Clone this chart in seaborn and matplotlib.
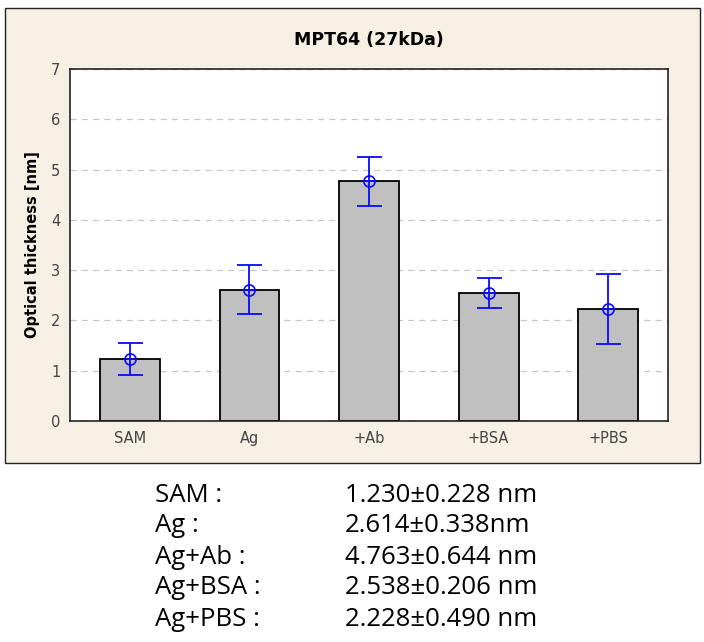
import matplotlib
matplotlib.use("Agg")
import matplotlib.pyplot as plt
import numpy as np
import pandas as pd
import seaborn as sns
from matplotlib.patches import Rectangle

# data
steps = ["SAM", "Ag", "+Ab", "+BSA", "+PBS"]
thickness = [1.230, 2.614, 4.763, 2.538, 2.228]
err = [0.32, 0.48, 0.49, 0.30, 0.69]
row_names = ["SAM :", "Ag :", "Ag+Ab :", "Ag+BSA :", "Ag+PBS :"]
row_values = ["1.230\u00b10.228 nm", "2.614\u00b10.338nm", "4.763\u00b10.644 nm",
              "2.538\u00b10.206 nm", "2.228\u00b10.490 nm"]

df = pd.DataFrame({"step": steps, "thickness": thickness})

sns.set_style("white")
plt.rcParams["font.family"] = ["DejaVu Sans"]

W, H = 704, 642
fig = plt.figure(figsize=(W / 100, H / 100), dpi=100)

# beige outer panel
fig.patches.append(Rectangle((5 / W, 1 - 463 / H), 695 / W, 455 / H,
                             transform=fig.transFigure, facecolor="#f5efe4",
                             edgecolor="#222222", linewidth=1.0, zorder=-1))

ax = fig.add_axes([70 / W, 1 - 421 / H, 598 / W, 352 / H])
ax.set_zorder(2)
ax.set_facecolor("white")
ax.set_axisbelow(True)
ax.yaxis.grid(True, linestyle=(0, (5, 4)), color="#c8c8c8", linewidth=0.9)

sns.barplot(data=df, x="step", y="thickness", ax=ax, width=0.5,
            color="#c0c0c0", saturation=1, edgecolor="black", linewidth=1.3)

x = np.arange(len(steps))
blue = "#0a0aff"
ax.errorbar(x, thickness, yerr=err, fmt="none", ecolor=blue,
            elinewidth=1.3, capsize=9, capthick=1.3, zorder=5)
ax.plot(x, thickness, "o", mfc="none", mec=blue, ms=8, mew=1.2, zorder=6)
ax.plot(x, thickness, "_", color=blue, ms=8, mew=1.2, zorder=6)

ax.set_xlim(-0.5, 4.5)
ax.set_ylim(0, 7)
ax.set_yticks(range(8))
ax.set_xlabel("")
ax.set_ylabel("Optical thickness [nm]", fontsize=10.5, fontweight="bold",
              color="black", labelpad=8)
ax.set_title("MPT64 (27kDa)", fontsize=12.5, fontweight="semibold",
             color="black", pad=17)
ax.tick_params(axis="both", direction="out", length=4, width=1,
               colors="#333333", labelcolor="#444444", labelsize=10.5)
ax.tick_params(axis="y", pad=3)
for s in ax.spines.values():
    s.set_visible(True)
    s.set_color("#222222")
    s.set_linewidth(1.2)

# summary text below the chart
ys = [495, 526, 557, 588, 620]
for name, val, y in zip(row_names, row_values, ys):
    fig.text(155 / W, 1 - y / H, name, fontsize=18.5, va="center",
             color="black", family=["Open Sans", "DejaVu Sans"])
    fig.text(345 / W, 1 - y / H, val, fontsize=18.5, va="center",
             color="black", family=["Open Sans", "DejaVu Sans"])

fig.savefig("out.png", dpi=100)
